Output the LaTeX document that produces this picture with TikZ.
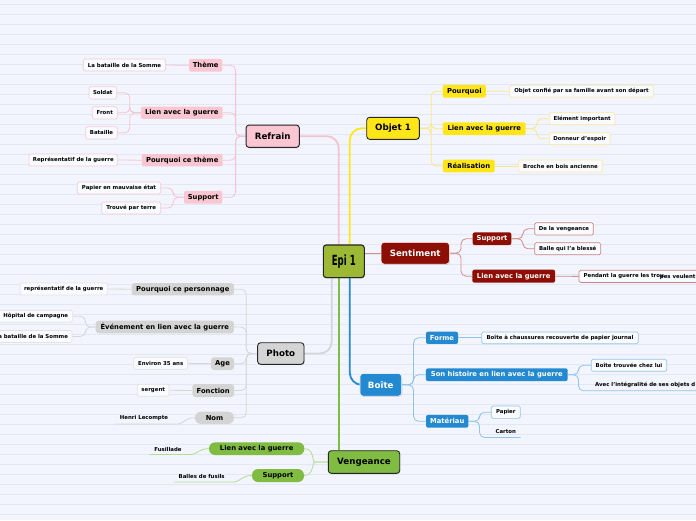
\documentclass[tikz,border=0pt]{standalone}
\usepackage{fontspec}
\usepackage{graphicx}
\setmainfont{DejaVu Sans}
\newfontfamily\epifont{DejaVu Sans Condensed}
\usetikzlibrary{shadows}
\definecolor{paperbg}{HTML}{F2F5FD}
\definecolor{paperline}{HTML}{E3E7F1}
\definecolor{epigreen}{HTML}{9CB834}
\definecolor{pinkf}{HTML}{F9C6D1}
\definecolor{pinkc}{HTML}{F5C3CF}
\definecolor{pinkl}{HTML}{F6CAD5}
\definecolor{yellowf}{HTML}{FFE619}
\definecolor{yellowc}{HTML}{FBE784}
\definecolor{yellowl}{HTML}{FAE9A2}
\definecolor{redf}{HTML}{8C0E04}
\definecolor{redc}{HTML}{D38B8B}
\definecolor{redl}{HTML}{CC8282}
\definecolor{bluef}{HTML}{2389D0}
\definecolor{bluec}{HTML}{8EC4EA}
\definecolor{bluel}{HTML}{94C6EA}
\definecolor{grayf}{HTML}{D4D4D4}
\definecolor{grayc}{HTML}{D6D6D6}
\definecolor{grayl}{HTML}{E2E2E2}
\definecolor{greenf}{HTML}{80BC42}
\definecolor{greenc}{HTML}{B7DA93}
\definecolor{leaffill}{HTML}{FAFBFF}
\pgfdeclarelayer{paper}
\pgfdeclarelayer{bg}
\pgfsetlayers{paper,bg,main}
\tikzset{
  sz/.style 2 args={minimum width=#1pt, minimum height=#2pt},
  mainbox/.style={draw=black!85, line width=0.9pt, rounded corners=3pt, inner sep=0pt,
    font=\bfseries\fontsize{8.7}{10}\selectfont,
    drop shadow={shadow xshift=0.6pt, shadow yshift=-0.9pt, opacity=0.3}},
  subbox/.style={rounded corners=2pt, inner sep=0pt, font=\bfseries\fontsize{6.8}{8}\selectfont},
  leafbox/.style={fill=leaffill, line width=0.7pt, rounded corners=1.5pt, inner sep=0pt,
    font=\bfseries\fontsize{5.4}{6.5}\selectfont},
  leaftext/.style={inner sep=0pt, font=\bfseries\fontsize{5.4}{6.5}\selectfont},
  mainline/.style={line width=1.8pt, rounded corners=12pt},
  subline/.style={line width=0.8pt, rounded corners=5pt},
}
\begin{document}
\begin{tikzpicture}[x=1pt,y=-1pt]
\useasboundingbox (0,0) rectangle (696,520);
\begin{pgfonlayer}{paper}
\fill[paperbg] (0,0) rectangle (696,520);
\foreach \yy in {4,14,...,514} \draw[paperline,line width=0.8pt] (0,\yy) -- (696,\yy);
\end{pgfonlayer}

% main nodes
\node[mainbox, fill=epigreen, sz={41}{32.7}, line width=1.1pt] (epi) at (343.8,261.3)
  {\epifont\bfseries\fontsize{14}{14}\selectfont\scalebox{0.68}[1]{Epi 1}};
\node[mainbox, fill=pinkf, sz={53.3}{22.3}] (refrain) at (272.7,136.2) {Refrain};
\node[mainbox, fill=yellowf, sz={52.6}{22}] (objet) at (393,128.3) {Objet 1};
\node[mainbox, draw=white, line width=0.6pt, fill=redf, text=white, sz={68.3}{21.7}] (sentiment) at (415.2,253.2) {Sentiment};
\node[mainbox, draw=white, line width=0.6pt, fill=bluef, text=white, sz={41.7}{22.5}] (boite) at (380.8,384.8) {Boîte};
\node[mainbox, fill=grayf, sz={46.3}{21.6}] (photo) at (280.8,353.5) {Photo};
\node[mainbox, fill=greenf, sz={71.4}{22.6}] (vengeance) at (364,462) {Vengeance};

% Refrain
\node[subbox, fill=pinkf, sz={33.3}{12.7}] (themeR) at (205.7,65.3) {Thème};
\node[subbox, fill=pinkf, sz={81.7}{12.3}] (lienR) at (181.8,112.8) {Lien avec la guerre};
\node[subbox, fill=pinkf, sz={81}{12.3}] (pqthem) at (182.2,160.2) {Pourquoi ce thème};
\node[subbox, fill=pinkf, sz={38.3}{12.7}] (supR) at (203.2,197.3) {Support};
\node[leafbox, draw=pinkl, sz={82.4}{12}] (somme) at (124.5,65) {La bataille de la Somme};
\node[leafbox, draw=pinkl, sz={27.7}{12.3}] (soldat) at (102.8,92.8) {Soldat};
\node[leafbox, draw=pinkl, sz={25}{12.3}] (front) at (104.8,112.8) {Front};
\node[leafbox, draw=pinkl, sz={31.6}{12.3}] (bataille) at (101.5,132.8) {Bataille};
\node[leafbox, draw=pinkl, sz={88.7}{12}] (repres) at (73.3,160) {Représentatif de la guerre};
\node[leafbox, draw=pinkl, sz={83.4}{12}] (papierME) at (119,188) {Papier en mauvaise état};
\node[leafbox, draw=pinkl, sz={59}{12}] (trouve) at (131.2,208) {Trouvé par terre};

% Objet 1
\node[subbox, fill=yellowf, sz={43.3}{12.7}] (pqO) at (464.3,91.3) {Pourquoi};
\node[subbox, fill=yellowf, sz={82.7}{12.7}] (lienO) at (484.3,128.7) {Lien avec la guerre};
\node[subbox, fill=yellowf, sz={51.7}{12.6}] (realis) at (468.8,166) {Réalisation};
\node[leafbox, draw=yellowl, sz={143.6}{11.7}] (confie) at (581.5,91.2) {Objet confié par sa famille avant son départ};
\node[leafbox, draw=yellowl, sz={65.7}{12}] (elem) at (582.2,118.7) {Elément important};
\node[leafbox, draw=yellowl, sz={60.7}{12}] (donneur) at (579.7,138.7) {Donneur d'espoir};
\node[leafbox, draw=yellowl, sz={83.6}{12}] (broche) at (560.5,166) {Broche en bois ancienne};

% Sentiment
\node[subbox, fill=redf, text=white, sz={38.6}{12.7}] (supS) at (492,238.7) {Support};
\node[subbox, fill=redf, text=white, sz={82.7}{13}] (lienS) at (513.7,276.2) {Lien avec la guerre};
\node[leafbox, draw=redl, sz={58.6}{12.3}] (devg) at (564,228.8) {De la vengeance};
\node[leafbox, draw=redl, sz={66}{12}] (balle) at (567.7,248.7) {Balle qui l'a blessé};
\node[leafbox, draw=redl, anchor=west, minimum height=12.2pt, inner xsep=4.6pt] (pendant) at (578.7,276.4)
  {Pendant la guerre les trou\hspace{-4pt}\raisebox{-0.8pt}{pes veulent}};

% Boite
\node[subbox, fill=bluef, text=white, sz={32}{12.3}] (forme) at (442,337.8) {Forme};
\node[subbox, fill=bluef, text=white, sz={141.7}{12.7}] (sonhist) at (496.8,374.7) {Son histoire en lien avec la guerre};
\node[subbox, fill=bluef, text=white, sz={42.3}{12.7}] (materiau) at (447.2,421.3) {Matériau};
\node[leafbox, draw=bluel, sz={156.6}{11.7}] (chauss) at (560,337.8) {Boîte à chaussures recouverte de papier journal};
\node[leafbox, draw=bluel, sz={75.4}{12}] (trlui) at (629,365.3) {Boîte trouvée chez lui};
\node[leaftext, anchor=south west, inner xsep=6pt, inner ysep=2.5pt] (avec) at (589,390.7) {Avec l'intégralité de ses objets d};
\node[leafbox, draw=bluel, sz={29}{12.3}] (papierB) at (505.8,412.2) {Papier};
\node[leaftext, sz={29}{10.6}] (carton) at (505.8,432) {Carton};

% Photo
\node[subbox, fill=grayf, rounded corners=3pt, sz={102.3}{12.3}] (pqP) at (182.8,289.2) {Pourquoi ce personnage};
\node[subbox, fill=grayf, rounded corners=3pt, sz={138.3}{12.6}] (evt) at (164.8,327) {Événement en lien avec la guerre};
\node[subbox, fill=grayf, rounded corners=3pt, sz={23}{12.7}] (age) at (222.5,363.7) {Age};
\node[subbox, fill=grayf, rounded corners=3pt, sz={41.7}{13}] (fonction) at (213.2,390.5) {Fonction};
\node[subbox, fill=grayf, rounded corners=6pt, sz={39}{12.3}] (nom) at (214.5,417.8) {Nom};
\node[leafbox, draw=grayl, sz={87.3}{12}] (represP) at (63.7,289) {représentatif de la guerre};
\node[leafbox, draw=grayl, sz={73.3}{12}] (hopital) at (35.7,316.3) {Hôpital de campagne};
\node[leafbox, draw=grayl, anchor=east, minimum height=12pt, inner xsep=4pt] (bataille2) at (72.3,336.5) {La bataille de la Somme};
\node[leafbox, draw=grayl, sz={54}{12}] (environ) at (160.7,363.3) {Environ 35 ans};
\node[leafbox, draw=grayl, sz={31.7}{12}] (sergent) at (153.2,390.3) {sergent};
\node[leaftext, sz={58}{10.4}] (henri) at (144,418.5) {Henri Lecompte};

% Vengeance
\node[subbox, fill=greenf, rounded corners=6pt, sz={95.3}{12.7}] (lienV) at (256.7,448.7) {Lien avec la guerre};
\node[subbox, fill=greenf, rounded corners=6pt, sz={52}{13}] (supV) at (278,475.5) {Support};
\node[leaftext, sz={36}{10.2}] (fusil) at (168,449.2) {Fusillade};
\node[leaftext, sz={55.3}{10.2}] (balles) at (201.7,476.6) {Balles de fusils};

\path (epi.center) ++(-5,0) coordinate (gtop);

\begin{pgfonlayer}{bg}
% main branches
\draw[mainline, pinkc] (epi.center) ++(-5,0) |- (refrain.east);
\draw[mainline, yellowf] (epi.center) ++(6,0) |- (objet.west);
\draw[mainline, grayc] (epi.center) ++(-12,0) |- (photo.east);
\draw[mainline, bluef] (epi.center) ++(6,0) |- (boite.west);
\draw[mainline, greenf, line width=2.2pt] (gtop) -- (gtop |- vengeance.north);
\draw[redc, line width=0.8pt] (sentiment.west) -- (sentiment.west -| epi.east);

% Refrain
\foreach \n in {themeR,lienR,pqthem,supR}
  \draw[subline, pinkc] (refrain.west) -- ++(-10,0) |- (\n.east);
\draw[subline, pinkc] (themeR.west) -- (somme.east);
\foreach \n in {soldat,front,bataille}
  \draw[subline, pinkc] (lienR.west) -- ++(-11,0) |- (\n.east);
\draw[subline, pinkc] (pqthem.west) -- (repres.east);
\foreach \n in {papierME,trouve}
  \draw[subline, pinkc] (supR.west) -- ++(-10.7,0) |- (\n.east);

% Objet
\foreach \n in {pqO,lienO,realis}
  \draw[subline, yellowc] (objet.east) -- ++(11.4,0) |- (\n.west);
\draw[subline, yellowc] (pqO.east) -- (confie.west);
\foreach \n in {elem,donneur}
  \draw[subline, yellowc] (lienO.east) -- ++(11,0) |- (\n.west);
\draw[subline, yellowc] (realis.east) -- (broche.west);

% Sentiment
\foreach \n in {supS,lienS}
  \draw[subline, redc] (sentiment.east) -- ++(11.4,0) |- (\n.west);
\foreach \n in {devg,balle}
  \draw[subline, redc] (supS.east) -- ++(11.4,0) |- (\n.west);
\draw[subline, redc] (lienS.east) -- (pendant.west);

% Boite
\foreach \n in {forme,sonhist,materiau}
  \draw[subline, bluec] (boite.east) -- ++(11.6,0) |- (\n.west);
\draw[subline, bluec] (forme.east) -- (chauss.west);
\draw[subline, bluec] (sonhist.east) -- ++(10.6,0) |- (trlui.west);
\draw[subline, bluec] (sonhist.east) -- ++(10.6,0) |- (avec.south east);
\draw[subline, bluec] (materiau.east) -- ++(11,0) |- (papierB.west);
\draw[subline, bluec] (materiau.east) -- ++(11,0) |- (carton.south east);

% Photo
\foreach \n in {pqP,evt,age,fonction,nom}
  \draw[subline, grayc] (photo.west) -- ++(-11,0) |- (\n.east);
\draw[subline, grayc] (pqP.west) -- (represP.east);
\foreach \n in {hopital,bataille2}
  \draw[subline, grayc] (evt.west) -- ++(-10,0) |- (\n.east);
\draw[subline, grayc] (age.west) -- (environ.east);
\draw[subline, grayc] (fonction.west) -- (sergent.east);
\draw[subline, grayc] (nom.west) .. controls +(-10,0) and +(10,0) .. (henri.south east) -- (henri.south west);

% Vengeance
\foreach \n in {lienV,supV}
  \draw[subline, greenc] (vengeance.west) -- ++(-8,0) .. controls +(-8,0) and +(10,0) .. (\n.east);
\draw[subline, greenc] (lienV.west) .. controls +(-10,0) and +(10,0) .. (fusil.south east) -- (fusil.south west);
\draw[subline, greenc] (supV.west) .. controls +(-10,0) and +(10,0) .. (balles.south east) -- (balles.south west);
\end{pgfonlayer}
\end{tikzpicture}
\end{document}
